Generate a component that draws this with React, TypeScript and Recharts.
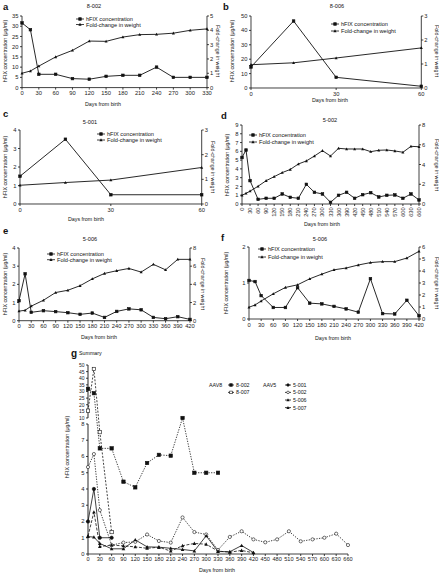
import { LineChart, Line, XAxis, YAxis, ReferenceLine } from "recharts";

const FONT = "'Liberation Sans', Arial, Helvetica, sans-serif";
const INK = "#111";

// a: 8-002
const daysA = [0, 15, 30, 60, 90, 120, 150, 180, 210, 240, 270, 300, 330];
const hfixA = [31.6, 28.3, 6.5, 6.5, 4.4, 4.1, 5.5, 6, 6, 10, 5, 5, 5];
const weightA = [1.0, 1.16, 1.5, 2.14, 2.6, 3.25, 3.23, 3.53, 3.7, 3.72, 3.8, 4.0, 4.1];

// b: 8-006
const daysB = [0, 15, 30, 60];
const hfixB = [14.6, 46.5, 7.4, 1.2];
const weightB = [0.97, 1.05, 1.25, 1.67];

// c: 5-001
const daysC = [0, 15, 30, 60];
const hfixC = [1.5, 3.5, 0.5, 0.5];
const weightC = [0.76, 0.87, 0.97, 1.48];

// d: 5-002
const daysD = [0, 15, 30, 60, 90, 120, 150, 180, 210, 240, 270, 300, 330, 360, 390, 420, 450, 480, 510, 540, 570, 600, 630, 660];
const hfixD = [5.3, 6.15, 2.66, 0.53, 0.65, 0.65, 1.14, 0.76, 0.65, 2.24, 1.33, 1.14, 0.19, 0.99, 1.33, 0.65, 1.06, 1.29, 0.8, 0.99, 1.03, 0.65, 1.14, 0.46];
const weightD = [0.88, 1.08, 1.3, 1.8, 2.36, 2.77, 3.18, 3.5, 4.05, 4.36, 4.86, 5.4, 4.86, 5.64, 5.57, 5.57, 5.57, 5.3, 5.44, 5.47, 5.37, 5.24, 5.84, 5.8];

// e: 5-006
const daysE = [0, 15, 30, 60, 90, 120, 150, 180, 210, 240, 270, 300, 330, 360, 390, 420];
const hfixE = [1.1, 2.58, 0.46, 0.55, 0.5, 0.44, 0.35, 0.42, 0.18, 0.51, 0.65, 0.6, 0.18, 0.11, 0.22, 0.07];
const weightE = [1.05, 1.15, 1.6, 2.25, 3.1, 3.35, 3.85, 4.6, 5.2, 5.5, 5.75, 5.35, 6.2, 5.6, 6.75, 6.75];

// f: 5-006 (second animal)
const daysF = [0, 15, 30, 60, 90, 120, 150, 180, 210, 240, 270, 300, 330, 360, 390, 420];
const hfixF = [1.07, 1.04, 0.65, 0.32, 0.32, 0.87, 0.44, 0.42, 0.35, 0.28, 0.19, 1.12, 0.15, 0.14, 0.52, 0.09];
const weightF = [0.98, 1.17, 1.5, 2.1, 2.63, 2.85, 3.35, 3.74, 4.1, 4.25, 4.5, 4.7, 4.78, 4.78, 5.08, 5.64];

// g: summary
const days8002 = [0, 15, 30, 60, 90, 120, 150, 180, 210, 240, 270, 300, 330];
const hfix8002 = [32, 28.7, 6.5, 6.5, 4.45, 4.1, 5.6, 6.1, 6.05, 10, 5, 5, 5];
const days8007 = [0, 15, 30, 60];
const hfix8007 = [15.5, 47, 7.5, 1.35];
const days5001 = [0, 15, 30, 60];
const hfix5001 = [2, 4, 1, 1];
const hfix5002 = [5.35, 6.15, 2.7, 0.55, 0.7, 0.75, 1.2, 0.8, 0.7, 2.25, 1.35, 1.2, 0.25, 1.05, 1.4, 0.9, 0.72, 0.9, 1.4, 0.78, 0.9, 1.0, 1.25, 0.55];

const range = (a: number, b: number, s: number) => {
  const out: number[] = [];
  for (let v = a; v <= b + 1e-9; v += s) out.push(v);
  return out;
};

function Marker({ kind, cx, cy, s }: { kind: string; cx: number; cy: number; s: number }) {
  const h = s / 2;
  if (kind === "sq" || kind === "osq")
    return <rect x={cx - h} y={cy - h} width={s} height={s} fill={kind === "sq" ? INK : "#fff"} stroke={INK} strokeWidth={0.6} />;
  if (kind === "circ" || kind === "ocirc")
    return <circle cx={cx} cy={cy} r={h} fill={kind === "circ" ? INK : "#fff"} stroke={INK} strokeWidth={0.6} />;
  return <polygon points={`${cx},${cy - h - 0.4} ${cx + h + 0.3},${cy + h} ${cx - h - 0.3},${cy + h}`} fill={INK} />;
}

const dotOf = (kind: string, s: number) => (p: any) => {
  if (p.cx == null || p.cy == null || p.value == null) return <g key={`n${p.index}`} />;
  return <Marker key={`m${p.index}`} kind={kind} cx={p.cx} cy={p.cy} s={s} />;
};

const tickStyle = { fontSize: 5.8, fill: "#222", fontFamily: FONT };

const RotTick = (p: any) => (
  <text
    x={p.x}
    y={p.y}
    transform={`rotate(-90 ${p.x} ${p.y})`}
    textAnchor="end"
    dominantBaseline="central"
    fontSize={5.6}
    fontFamily={FONT}
    fill="#222"
  >
    {p.payload.value}
  </text>
);

interface DualProps {
  px0: number;
  px1: number;
  py0: number;
  py1: number;
  days: number[];
  hfix: number[];
  weight: number[];
  xTicks: number[];
  lTicks: number[];
  rTicks: number[];
  rotate?: boolean;
}

function Dual({ px0, px1, py0, py1, days, hfix, weight, xTicks, lTicks, rTicks, rotate }: DualProps) {
  const LW = 16;
  const RW = 12;
  const TOP = 4;
  const XH = rotate ? 18 : 10;
  const data = days.map((d, i) => ({ day: d, hfix: hfix[i], weight: weight[i] }));
  const w = LW + (px1 - px0) + RW;
  const h = TOP + (py1 - py0) + XH;
  const axisProps = {
    axisLine: { stroke: INK, strokeWidth: 0.8 },
    tickLine: { stroke: INK, strokeWidth: 0.8 },
    tickSize: 2,
    tickMargin: 1.5,
  };
  return (
    <div style={{ position: "absolute", left: px0 - LW, top: py0 - TOP }}>
      <LineChart width={w} height={h} data={data} margin={{ top: TOP, right: 0, bottom: 0, left: 0 }}>
        <XAxis
          dataKey="day"
          type="number"
          domain={[0, xTicks[xTicks.length - 1]]}
          ticks={xTicks}
          interval={0}
          height={XH}
          tick={rotate ? <RotTick /> : tickStyle}
          {...axisProps}
        />
        <YAxis yAxisId="l" width={LW} domain={[0, lTicks[lTicks.length - 1]]} ticks={lTicks} interval={0} tick={tickStyle} {...axisProps} />
        <YAxis
          yAxisId="r"
          orientation="right"
          width={RW}
          domain={[0, rTicks[rTicks.length - 1]]}
          ticks={rTicks}
          interval={0}
          tick={{ ...tickStyle, textAnchor: "start" }}
          {...axisProps}
          tickMargin={1}
        />
        <Line yAxisId="l" dataKey="hfix" stroke={INK} strokeWidth={0.9} dot={dotOf("sq", 2.6)} isAnimationActive={false} />
        <Line yAxisId="r" dataKey="weight" stroke={INK} strokeWidth={0.9} dot={dotOf("tri", 2.4)} isAnimationActive={false} />
      </LineChart>
    </div>
  );
}

// broken axis: 0-8 on the lower part, 10-50 compressed above the break
const LOW_MAX = 8;
const UP_BASE = 8.37;
const UP_K = 0.0815;
const brk = (v: number) => (v <= LOW_MAX ? v : UP_BASE + (v - 10) * UP_K);
const lowTicks = range(0, 8, 1);
const upTicks = range(10, 50, 5);
const rawOf = (t: number) => [...lowTicks, ...upTicks].find((r) => Math.abs(brk(r) - t) < 1e-6) ?? t;

const summarySeries = [
  { key: "s8002", days: days8002, vals: hfix8002, kind: "sq", dash: "1.3 1.3", s: 3.4 },
  { key: "s8007", days: days8007, vals: hfix8007, kind: "osq", dash: "2 1.5", s: 3.4 },
  { key: "s5001", days: days5001, vals: hfix5001, kind: "circ", dash: undefined, s: 3.4 },
  { key: "s5002", days: daysD, vals: hfix5002, kind: "ocirc", dash: "1.3 1.3", s: 3.2 },
  { key: "s5006", days: daysE, vals: hfixE, kind: "tri", dash: "3 1.5", s: 3 },
  { key: "s5007", days: daysF, vals: hfixF, kind: "tri", dash: undefined, s: 3 },
];

const summaryDays = Array.from(new Set(summarySeries.flatMap((s) => s.days))).sort((a, b) => a - b);
const summaryTable = summaryDays.map((d) => {
  const row: Record<string, number> = { day: d };
  summarySeries.forEach((s) => {
    const i = s.days.indexOf(d);
    if (i >= 0) row[s.key] = brk(s.vals[i]);
  });
  return row;
});

const BrkTick = (p: any) => {
  const raw = rawOf(p.payload.value);
  return (
    <text x={p.x} y={p.y} textAnchor="end" dominantBaseline="central" fontSize={raw >= 10 ? 5 : 5.8} fontFamily={FONT} fill="#222">
      {raw}
    </text>
  );
};

function Summary() {
  const LW = 20;
  const TOP = 4;
  const XH = 12;
  const RM = 8;
  const px0 = 88;
  const px1 = 348;
  const py0 = 365;
  const py1 = 554;
  const axisProps = {
    tickLine: { stroke: INK, strokeWidth: 0.8 },
    tickSize: 2,
    tickMargin: 1.5,
  };
  return (
    <div style={{ position: "absolute", left: px0 - LW, top: py0 - TOP }}>
      <LineChart width={LW + px1 - px0 + RM} height={TOP + py1 - py0 + XH} data={summaryTable} margin={{ top: TOP, right: RM, bottom: 0, left: 0 }}>
        <XAxis
          dataKey="day"
          type="number"
          domain={[0, 660]}
          ticks={range(0, 660, 30)}
          interval={0}
          height={XH}
          tick={{ ...tickStyle, fontSize: 5.6 }}
          axisLine={{ stroke: INK, strokeWidth: 0.8 }}
          {...axisProps}
        />
        <YAxis
          width={LW}
          domain={[0, brk(50)]}
          ticks={[...lowTicks, ...upTicks].map(brk)}
          interval={0}
          tick={<BrkTick />}
          axisLine={false}
          {...axisProps}
        />
        <ReferenceLine segment={[{ x: 0, y: 0 }, { x: 0, y: LOW_MAX }]} stroke="#666" strokeWidth={1.4} />
        <ReferenceLine segment={[{ x: 0, y: brk(10) }, { x: 0, y: brk(50) }]} stroke="#666" strokeWidth={1.4} />
        {summarySeries.map((s) => (
          <Line
            key={s.key}
            dataKey={s.key}
            stroke={INK}
            strokeWidth={0.8}
            strokeDasharray={s.dash}
            connectNulls
            dot={dotOf(s.kind, s.s)}
            isAnimationActive={false}
          />
        ))}
      </LineChart>
    </div>
  );
}

function T({ x, y, children, size = 5.6, anchor = "middle", rot = 0, bold = false }: any) {
  return (
    <text
      x={x}
      y={y}
      fontSize={size}
      textAnchor={anchor}
      dominantBaseline="central"
      fontWeight={bold ? "bold" : "normal"}
      transform={rot ? `rotate(${rot} ${x} ${y})` : undefined}
      fill="#111"
    >
      {children}
    </text>
  );
}

function Leg({ x, y, kind, label, len = 8, size = 5.6 }: any) {
  return (
    <g>
      <line x1={x} y1={y} x2={x + len} y2={y} stroke={INK} strokeWidth={0.8} />
      <Marker kind={kind} cx={x + len / 2} cy={y} s={2.6} />
      <T x={x + len + 2} y={y} anchor="start" size={size}>
        {label}
      </T>
    </g>
  );
}

const YL = "hFIX concentration (\u03bcg/ml)";
const YR = "Fold-change in weight";
const XL = "Days from birth";

function Annotations() {
  const panels = [
    { l: "a", lx: 3, ly: 6, title: "8-002", tx: 94, ty: 6, yl: [5, 51], yr: [217.5, 51], xl: [103, 104], leg: [76, 19, 24.5] },
    { l: "b", lx: 223, ly: 6, title: "8-006", tx: 337, ty: 6, yl: [232, 51], yr: [436.5, 51], xl: [330, 100], leg: [331, 24, 31] },
    { l: "c", lx: 3, ly: 113, title: "5-001", tx: 90, ty: 122, yl: [5, 167], yr: [213, 167], xl: [86, 219], leg: [97, 134, 140] },
    { l: "d", lx: 221, ly: 115, title: "5-002", tx: 330, ty: 120, yl: [227, 165], yr: [436.5, 165], xl: [322, 224], leg: [249, 135, 142] },
    { l: "e", lx: 3, ly: 230, title: "5-006", tx: 90, ty: 239, yl: [5, 284], yr: [203, 284], xl: [99, 337], leg: [47, 254, 259.7] },
    { l: "f", lx: 221, ly: 237.5, title: "5-006", tx: 320, ty: 239, yl: [226, 283], yr: [436.5, 283], xl: [333, 338], leg: [258, 249, 257] },
  ];
  return (
    <svg width={439} height={574} style={{ position: "absolute", left: 0, top: 0, pointerEvents: "none" }} fontFamily={FONT}>
      {panels.map((p) => (
        <g key={p.l}>
          <T x={p.lx} y={p.ly} size={9.5} anchor="start" bold>
            {p.l}
          </T>
          <T x={p.tx} y={p.ty}>{p.title}</T>
          <T x={p.yl[0]} y={p.yl[1]} rot={-90} size={5.3}>
            {YL}
          </T>
          <T x={p.yr[0]} y={p.yr[1]} rot={90} size={5.3}>
            {YR}
          </T>
          <T x={p.xl[0]} y={p.xl[1]} size={5.3}>
            {XL}
          </T>
          <Leg x={p.leg[0]} y={p.leg[1]} kind="sq" label="hFIX concentration" />
          <Leg x={p.leg[0]} y={p.leg[2]} kind="tri" label="Fold-change in weight" />
        </g>
      ))}
      <T x={71} y={353} size={10} anchor="start" bold>
        g
      </T>
      <T x={79} y={353} size={5.3} anchor="start">
        Summary
      </T>
      <T x={67} y={447} rot={-90} size={5.3}>
        {YL}
      </T>
      <T x={217} y={570} size={5.3}>
        {XL}
      </T>
      <T x={209} y={385} size={5.3} anchor="start">
        AAV8
      </T>
      <Leg x={228} y={385} kind="sq" label="8-002" len={6} size={5.3} />
      <Leg x={228} y={392.4} kind="osq" label="8-007" len={6} size={5.3} />
      <T x={263} y={385} size={5.3} anchor="start">
        AAV5
      </T>
      <Leg x={285} y={385} kind="circ" label="5-001" len={6} size={5.3} />
      <Leg x={285} y={392.4} kind="ocirc" label="5-002" len={6} size={5.3} />
      <Leg x={285} y={400} kind="tri" label="5-006" len={6} size={5.3} />
      <Leg x={285} y={407.6} kind="tri" label="5-007" len={6} size={5.3} />
    </svg>
  );
}

export default function App() {
  return (
    <div style={{ position: "fixed", left: 0, top: 0, width: 439, height: 574, background: "#fff", fontFamily: FONT }}>
      <Dual px0={22} px1={207} py0={15.7} py1={87.3} days={daysA} hfix={hfixA} weight={weightA}
        xTicks={range(0, 330, 30)} lTicks={range(0, 35, 5)} rTicks={range(0, 5, 1)} />
      <Dual px0={250.7} px1={421} py0={15.7} py1={87.7} days={daysB} hfix={hfixB} weight={weightB}
        xTicks={[0, 30, 60]} lTicks={range(0, 50, 10)} rTicks={range(0, 3, 1)} />
      <Dual px0={20} px1={201.7} py0={130} py1={204} days={daysC} hfix={hfixC} weight={weightC}
        xTicks={[0, 30, 60]} lTicks={range(0, 4, 1)} rTicks={range(0, 3, 1)} />
      <Dual px0={242} px1={419} py0={125} py1={204} days={daysD} hfix={hfixD} weight={weightD}
        xTicks={range(0, 660, 30)} lTicks={range(0, 9, 1)} rTicks={range(0, 8, 2)} rotate />
      <Dual px0={19} px1={190} py0={248} py1={320.7} days={daysE} hfix={hfixE} weight={weightE}
        xTicks={range(0, 420, 30)} lTicks={range(0, 4, 1)} rTicks={range(0, 8, 2)} />
      <Dual px0={249} px1={419} py0={247} py1={319} days={daysF} hfix={hfixF} weight={weightF}
        xTicks={range(0, 420, 30)} lTicks={range(0, 2, 1)} rTicks={range(0, 6, 1)} />
      <Summary />
      <Annotations />
    </div>
  );
}
